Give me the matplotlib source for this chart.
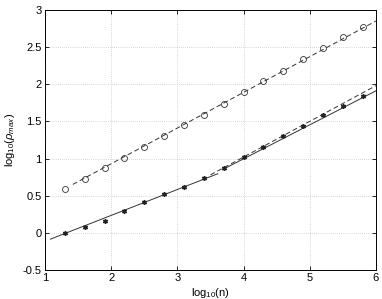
import matplotlib
matplotlib.use('Agg')
import matplotlib.pyplot as plt
import numpy as np

# ========== datos ==========
log_n = [1.3, 1.6, 1.9, 2.2, 2.5, 2.8, 3.1, 3.4, 3.7, 4.0, 4.3, 4.6, 4.9, 5.2, 5.5, 5.8]
rho_circ = [0.59, 0.73, 0.87, 1.01, 1.15, 1.30, 1.45, 1.59, 1.74, 1.90, 2.04, 2.18, 2.34, 2.49, 2.64, 2.77]
rho_star = [0.00, 0.08, 0.165, 0.295, 0.41, 0.52, 0.62, 0.74, 0.875, 1.02, 1.16, 1.30, 1.44, 1.58, 1.71, 1.84]

# ajustes lineales (a + b*x) y rango en x
fit_circ = (-0.03, 0.48, 1.42, 6.0)
fit_low = (-0.461, 0.348, 1.08, 3.61)
fit_high = (-0.832, 0.457, 3.68, 6.0)
fit_par = (-0.90, 0.48, 3.50, 6.0)

x_ticks = [1, 2, 3, 4, 5, 6]
y_ticks = [-0.5, 0, 0.5, 1, 1.5, 2, 2.5, 3]
y_tick_labels = ['-0.5', '0', '0.5', '1', '1.5', '2', '2.5', '3']

plt.rcParams['font.family'] = ['Liberation Sans', 'DejaVu Sans']
plt.rcParams['mathtext.fontset'] = 'custom'
plt.rcParams['mathtext.rm'] = 'Liberation Sans'
plt.rcParams['mathtext.it'] = 'Liberation Sans:italic'

fig = plt.figure(figsize=(3.82, 2.99), dpi=100)
ax = fig.add_axes([0.118, 0.097, 0.866, 0.870])


def fit_line(fit, style):
    a, b, x0, x1 = fit
    xs = np.array([x0, x1])
    ax.plot(xs, a + b * xs, style, color='#333333', lw=0.7, dashes=(5, 3) if style == '--' else (None, None))


fit_line(fit_circ, '--')
fit_line(fit_par, '--')
fit_line(fit_low, '-')
fit_line(fit_high, '-')

ax.plot(log_n, rho_circ, 'o', mfc='none', mec='#333333', ms=4.3, mew=0.6)
ax.plot(log_n, rho_star, linestyle='none', marker=(6, 2, 0), color='#222222', ms=3.5, mew=1.0)

ax.set_xlim(1, 6)
ax.set_ylim(-0.5, 3)
ax.set_xticks(x_ticks)
ax.set_xticklabels([str(t) for t in x_ticks])
ax.set_yticks(y_ticks)
ax.set_yticklabels(y_tick_labels)
ax.tick_params(direction='in', labelsize=8, length=3, width=0.6, top=True, right=True, pad=2.5)
ax.grid(True, linestyle=(0, (1, 2)), color='#b0b0b0', lw=0.5)
for s in ax.spines.values():
    s.set_linewidth(0.7)

ax.set_xlabel(r'log$_{10}$(n)', fontsize=8, labelpad=2)
ax.set_ylabel(r'log$_{10}$($\rho_{max}$)', fontsize=8, labelpad=4)

plt.savefig('out.png', dpi=100)
plt.close(fig)
